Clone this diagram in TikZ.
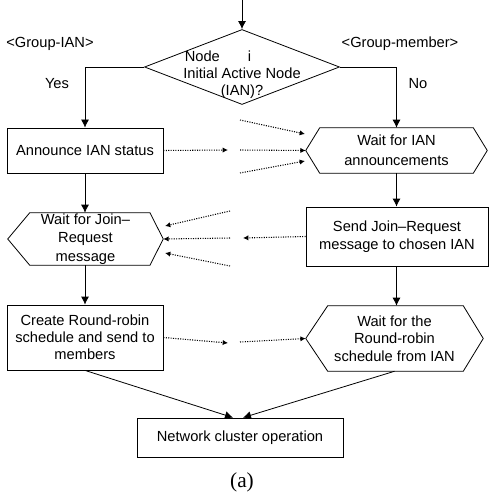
\documentclass[tikz,border=0pt]{standalone}
\usepackage{fontspec}
\setmainfont{Liberation Sans}
\newfontfamily\capfont{Liberation Serif}
\usetikzlibrary{arrows.meta,shapes.geometric}
\begin{document}
\begin{tikzpicture}[x=0.75pt,y=-0.75pt,
  every node/.style={font=\fontsize{11}{13}\selectfont},
  box/.style={draw, line width=0.6pt, inner sep=0pt, align=center},
  hexa/.style={inner sep=0pt, align=center},
  hexline/.style={line width=0.6pt},
  flow/.style={line width=0.6pt, -{Latex[length=6pt,width=6pt]}},
  msg/.style={line width=0.8pt, densely dotted, -{Latex[length=4pt,width=4pt]}}]
\useasboundingbox (0,0) rectangle (489,495);

% decision
\coordinate (start) at (242,0);
\node[draw, diamond, line width=0.6pt, inner sep=0pt, minimum width=146.25pt, minimum height=56.25pt] (dia) at (242,67) {};
\node[align=center, font=\fontsize{11}{12.75}\selectfont] (qtext) at (242,75)
  {\hspace*{-36pt}Node\hspace{21pt}i\\Initial Active Node\\(IAN)?};
\node (gian) at (50,44) {<Group-IAN>};
\node (gmem) at (400,44) {<Group-member>};
\node (yes) at (57,84) {Yes};
\node (no) at (418,84) {No};

% left column
\node[box, minimum width=117pt, minimum height=33.75pt] (ann) at (85,150.5) {Announce IAN status};
\node[hexa, minimum width=116.25pt, minimum height=39pt, font=\fontsize{11}{14}\selectfont] (jr) at (85.5,239) {Wait for Join–\\Request\\message};
\node[box, minimum width=117pt, minimum height=48.75pt, font=\fontsize{11}{12.75}\selectfont] (cr) at (85,337.5) {Create Round-robin\\schedule and send to\\members};

% right column
\node[hexa, minimum width=135.75pt, minimum height=33.75pt, font=\fontsize{11}{15}\selectfont] (wi) at (396.5,150.5) {Wait for IAN\\announcements};
\node[box, minimum width=136.5pt, minimum height=44.25pt, font=\fontsize{11}{13.5}\selectfont] (send) at (397,236.5) {Send Join–Request\\message to chosen IAN};
\node[hexa, minimum width=132.75pt, minimum height=48.75pt, font=\fontsize{11}{13}\selectfont] (rr) at (394.5,338.5) {Wait for the\\Round-robin\\schedule from IAN};

% bottom
\node[box, minimum width=154.5pt, minimum height=29.25pt] (net) at (240,437.5) {Network cluster operation};
\node[font=\capfont\fontsize{16}{18}\selectfont] (cap) at (242,482) {(a)};

% hexagon outlines
\draw[hexline] (wi.west) -- ([xshift=10.5pt]wi.north west) -- ([xshift=-10.5pt]wi.north east) -- (wi.east)
  -- ([xshift=-10.5pt]wi.south east) -- ([xshift=10.5pt]wi.south west) -- cycle;
\draw[hexline] (jr.west) -- ([xshift=16.5pt]jr.north west) -- ([xshift=-10pt]jr.north east) -- (jr.east)
  -- ([xshift=-10pt]jr.south east) -- ([xshift=16.5pt]jr.south west) -- cycle;
\draw[hexline] (rr.west) -- ([xshift=16.5pt]rr.north west) -- ([xshift=-15pt]rr.north east) -- (rr.east)
  -- ([xshift=-15pt]rr.south east) -- ([xshift=16.5pt]rr.south west) -- cycle;

% solid flow
\draw[flow] (start) -- (dia.north);
\draw[flow] (dia.west) -| (ann.north);
\draw[flow] (dia.east) -| (wi.north);
\draw[flow] (ann.south) -- (ann.south |- jr.north);
\draw[flow] (ann.south |- jr.south) -- (cr.north);
\draw[flow] (wi.south) -- (wi.south |- send.north);
\draw[flow] (wi.south |- send.south) -- (wi.south |- rr.north);
\draw[flow] (cr.south) -- ([xshift=-5.25pt]net.north);
\draw[flow] (rr.south) -- ([xshift=2.25pt]net.north);

% message arrows row 1
\coordinate (a1) at (228,150);
\coordinate (b1) at (240,150);
\coordinate (u1s) at (240,120);
\coordinate (u1e) at (305,134);
\coordinate (l1s) at (240,173);
\coordinate (l1e) at (305,161);
\draw[msg] (ann.east) -- (a1);
\draw[msg] (b1) -- (wi.west);
\draw[msg] (u1s) -- (u1e);
\draw[msg] (l1s) -- (l1e);

% message arrows row 2
\coordinate (a2) at (243,238);
\coordinate (b2) at (230,238);
\coordinate (u2s) at (230,211);
\coordinate (u2e) at (165,226);
\coordinate (l2s) at (230,266);
\coordinate (l2e) at (165,253);
\draw[msg] (send.west) -- (a2);
\draw[msg] (b2) -- (jr.east);
\draw[msg] (u2s) -- (u2e);
\draw[msg] (l2s) -- (l2e);

% message arrows row 3
\coordinate (a3) at (228,343);
\coordinate (b3) at (240,342);
\draw[msg] (cr.east) -- (a3);
\draw[msg] (b3) -- (rr.west);
\end{tikzpicture}
\end{document}
